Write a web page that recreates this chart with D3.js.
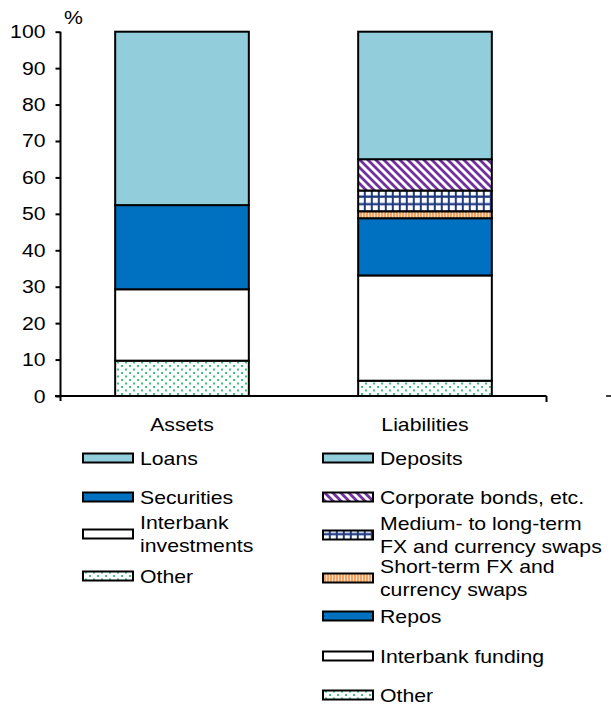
<!DOCTYPE html>
<html><head><meta charset="utf-8">
<script src="https://cdn.jsdelivr.net/npm/d3@7"></script>
<style>body{margin:0;background:#fff}svg{font-family:"Liberation Sans",Arial,sans-serif}</style>
</head><body><svg id="c" width="611" height="704"></svg>
<script>
const categories = ["Assets", "Liabilities"];
const assetSeries = ["Other", "Interbank investments", "Securities", "Loans"];
const assetValues = [9.7, 19.6, 23.1, 47.6];
const liabSeries = ["Other", "Interbank funding", "Repos", "Short-term FX and currency swaps", "Medium- to long-term FX and currency swaps", "Corporate bonds, etc.", "Deposits"];
const liabValues = [4.2, 28.9, 15.7, 1.9, 5.7, 8.6, 35.0];
const yTicks = [0, 10, 20, 30, 40, 50, 60, 70, 80, 90, 100];
const assetLegend = [["Loans"], ["Securities"], ["Interbank", "investments"], ["Other"]];
const liabLegend = [["Deposits"], ["Corporate bonds, etc."], ["Medium- to long-term", "FX and currency swaps"], ["Short-term FX and", "currency swaps"], ["Repos"], ["Interbank funding"], ["Other"]];

const FS = 18, SX = 1.18;
const svg = d3.select("#c");
const defs = svg.append("defs");
// patterns
const pDots = defs.append("pattern").attr("id","dots").attr("patternUnits","userSpaceOnUse").attr("width",8).attr("height",7);
pDots.append("rect").attr("width",8).attr("height",7).attr("fill","#fff");
pDots.append("rect").attr("x",1).attr("y",1).attr("width",2).attr("height",2).attr("fill","#3cc47a");
pDots.append("rect").attr("x",5).attr("y",4.5).attr("width",2).attr("height",2).attr("fill","#3cc47a");
const pDiag = defs.append("pattern").attr("id","diag").attr("patternUnits","userSpaceOnUse").attr("width",8).attr("height",8);
pDiag.append("rect").attr("width",8).attr("height",8).attr("fill","#fff");
pDiag.append("path").attr("d","M-2,-2 L10,10 M-6,2 L2,10 M6,-2 L10,2").attr("stroke","#7030a0").attr("stroke-width",2.8);
const pGrid = defs.append("pattern").attr("id","grid").attr("patternUnits","userSpaceOnUse").attr("width",7).attr("height",7.5).attr("y",1);
pGrid.append("rect").attr("width",7).attr("height",7.5).attr("fill","#203a80");
pGrid.append("rect").attr("x",1.8).attr("y",1.8).attr("width",5).attr("height",5.2).attr("fill","#fff");
const pVert = defs.append("pattern").attr("id","vert").attr("patternUnits","userSpaceOnUse").attr("width",3).attr("height",3);
pVert.append("rect").attr("width",3).attr("height",3).attr("fill","#fde0c8");
pVert.append("rect").attr("width",2).attr("height",3).attr("fill","#f4a460");

const fills = {
  "Loans":"#92cddc","Deposits":"#92cddc","Securities":"#0070c0","Repos":"#0070c0",
  "Interbank investments":"#fff","Interbank funding":"#fff","Other":"url(#dots)",
  "Corporate bonds, etc.":"url(#diag)","Medium- to long-term FX and currency swaps":"url(#grid)",
  "Short-term FX and currency swaps":"url(#vert)"
};

const x = d3.scaleBand().domain(categories).range([60.5, 546.5]).paddingInner(0.45).paddingOuter(0.225);
const y = d3.scaleLinear().domain([0,100]).range([396, 31.7]);

function label(parent, tx, ty, str, anchor){
  return parent.append("text").attr("transform",`translate(${tx},${ty}) scale(${SX},1)`)
    .attr("font-size",FS).attr("fill","#000").attr("text-anchor",anchor||"start").text(str);
}

function stackBar(cat, names, vals){
  let acc = 0;
  names.forEach((n,i)=>{
    const y0 = acc, y1 = acc + vals[i]; acc = y1;
    svg.append("rect").attr("x", x(cat)).attr("width", x.bandwidth())
      .attr("y", y(y1)).attr("height", y(y0)-y(y1))
      .attr("fill", fills[n]).attr("stroke","#000").attr("stroke-width",2);
  });
}
stackBar("Assets", assetSeries, assetValues);
stackBar("Liabilities", liabSeries, liabValues);

// y axis
const yAxis = d3.axisLeft(y).tickValues(yTicks).tickSize(5).tickFormat("");
const gy = svg.append("g").attr("transform","translate(60.5,0)").call(yAxis);
gy.select(".domain").attr("d", `M0,${y(100)}V${y(0)+5}`).attr("stroke","#000").attr("stroke-width",2);
gy.selectAll(".tick line").attr("stroke","#000").attr("stroke-width",2);
yTicks.forEach(t=>label(svg, 45.5, y(t)+6.5, String(t), "end"));

// x axis
const gx = svg.append("g").attr("transform",`translate(0,${y(0)})`);
gx.append("line").attr("x1",55).attr("x2",546.5).attr("stroke","#000").attr("stroke-width",2);
[546.5].forEach(t=>gx.append("line").attr("x1",t).attr("x2",t).attr("y1",0).attr("y2",6).attr("stroke","#000").attr("stroke-width",2));
gx.append("line").attr("x1",606).attr("x2",611).attr("stroke","#000").attr("stroke-width",1.5);
categories.forEach(c=>label(gx, x(c)+x.bandwidth()/2, 35, c, "middle"));
label(svg, 64, 24, "%");

// legends
function legend(items, fillKeys, sx, tx, rowsY){
  items.forEach((lines,i)=>{
    const cy = rowsY[i];
    svg.append("rect").attr("x",sx).attr("y",cy-4.5).attr("width",50).attr("height",9)
      .attr("fill",fills[fillKeys[i]]).attr("stroke","#000").attr("stroke-width",2);
    const lh = 23.5;
    lines.forEach((l,j)=>label(svg, tx, cy + 6.5 + (j - (lines.length-1)/2)*lh, l));
  });
}
legend(assetLegend, ["Loans","Securities","Interbank investments","Other"], 83, 140, [458, 497, 534, 576]);
legend(liabLegend, ["Deposits","Corporate bonds, etc.","Medium- to long-term FX and currency swaps","Short-term FX and currency swaps","Repos","Interbank funding","Other"], 323, 380, [458, 497, 535, 578, 616, 656, 695]);
</script></body></html>
